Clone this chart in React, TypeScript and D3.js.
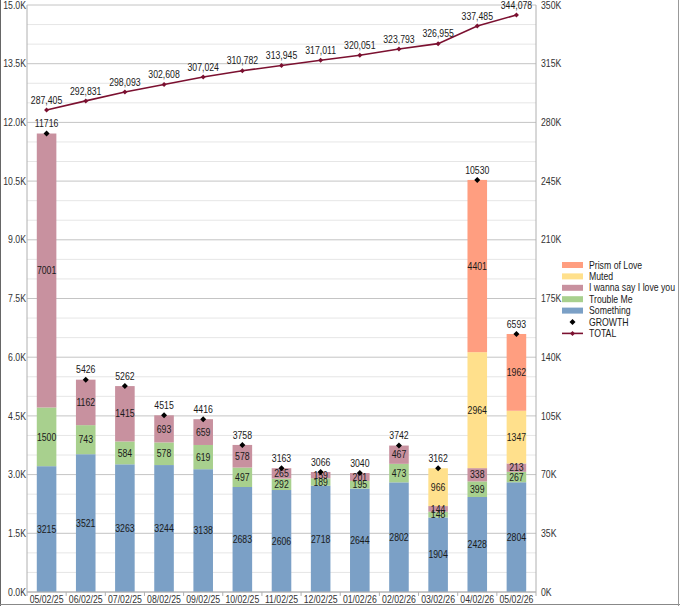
import React from "react";
import * as d3 from "d3";

const categories = ["05/02/25","06/02/25","07/02/25","08/02/25","09/02/25","10/02/25","11/02/25","12/02/25","01/02/26","02/02/26","03/02/26","04/02/26","05/02/26"];
const something = [3215,3521,3263,3244,3138,2683,2606,2718,2644,2802,1904,2428,2804];
const troubleMe = [1500,743,584,578,619,497,292,189,195,473,148,399,267];
const iWannaSay = [7001,1162,1415,693,659,578,265,159,201,467,144,338,213];
const muted = [0,0,0,0,0,0,0,0,0,0,966,2964,1347];
const prismOfLove = [0,0,0,0,0,0,0,0,0,0,0,4401,1962];
const growth = [11716,5426,5262,4515,4416,3758,3163,3066,3040,3742,3162,10530,6593];
const total = [287405,292831,298093,302608,307024,310782,313945,317011,320051,323793,326955,337485,344078];
const leftTicks = [0,1500,3000,4500,6000,7500,9000,10500,12000,13500,15000];
const rightTicks = [0,35000,70000,105000,140000,175000,210000,245000,280000,315000,350000];

const seriesDefs = [
  { name: "Something", values: something, color: "#7ba0c6" },
  { name: "Trouble Me", values: troubleMe, color: "#a8d08e" },
  { name: "I wanna say I love you", values: iWannaSay, color: "#c8919f" },
  { name: "Muted", values: muted, color: "#ffe08c" },
  { name: "Prism of Love", values: prismOfLove, color: "#ff9e80" },
];
const legendOrder = ["Prism of Love", "Muted", "I wanna say I love you", "Trouble Me", "Something"];
const lineColor = "#7b1030";
const FONT = "'Liberation Sans', Arial, sans-serif";
const SX = 0.83;
const FS = 10.5;

const dia = (r: number) => `M0,${-r}L${r},0L0,${r}L${-r},0Z`;

function T({ x, y, anchor = "middle", fill = "#1a1a1a", children }: any) {
  return (
    <text transform={`translate(${x},${y}) scale(${SX},1)`} dy="0.35em" fontSize={FS} textAnchor={anchor} fill={fill}>
      {children}
    </text>
  );
}

export default function App() {
  const W = 680, H = 606;
  const left = 27, right = 536, top = 5, bottom = 592;
  const x = d3.scaleBand<string>().domain(categories).range([left, right]).paddingInner(0.5).paddingOuter(0.25);
  const yL = d3.scaleLinear().domain([0, 15000]).range([bottom, top]);
  const yR = d3.scaleLinear().domain([0, 350000]).range([bottom, top]);
  const minor = d3.range(0, 15001, 500);
  const bw = x.bandwidth();
  const step = x.step();
  const cx = (i: number) => x(categories[i])! + bw / 2;

  const stackData = categories.map((c, i) => {
    const o: any = { cat: c };
    seriesDefs.forEach(s => (o[s.name] = s.values[i]));
    return o;
  });
  const stacked = d3.stack<any>().keys(seriesDefs.map(s => s.name))(stackData);
  const line = d3.line<number>().x((_, i) => cx(i)).y(v => yR(v));
  const fmt = d3.format(",");

  return (
    <svg width={W} height={H} style={{ position: "absolute", left: 0, top: 0, background: "#fff" }} fontFamily={FONT}>
      <rect x={0} y={0} width={W} height={H} fill="#fff" />
      {minor.map(v => (
        <line key={"m" + v} x1={left} x2={right} y1={yL(v)} y2={yL(v)} stroke={v % 1500 === 0 ? "#c4c4c4" : "#e6e6e6"} strokeWidth={1} />
      ))}
      {stacked.map((layer, li) => (
        <g key={layer.key} fill={seriesDefs[li].color}>
          {layer.map((d, i) =>
            d[1] - d[0] > 0 ? (
              <rect key={i} x={x(categories[i])} width={bw} y={yL(d[1])} height={yL(d[0]) - yL(d[1])} />
            ) : null
          )}
        </g>
      ))}
      {stacked.map(layer => (
        <g key={"t" + layer.key}>
          {layer.map((d, i) =>
            d[1] - d[0] > 0 ? (
              <T key={i} x={cx(i)} y={yL((d[0] + d[1]) / 2)}>{d[1] - d[0]}</T>
            ) : null
          )}
        </g>
      ))}
      {growth.map((v, i) => (
        <g key={"g" + i}>
          <path d={dia(3)} transform={`translate(${cx(i)},${yL(v)})`} fill="#000" />
          <T x={cx(i)} y={yL(v) - 10}>{v}</T>
        </g>
      ))}
      <path d={line(total)!} fill="none" stroke={lineColor} strokeWidth={1.6} />
      {total.map((v, i) => (
        <g key={"l" + i}>
          <path d={dia(2.5)} transform={`translate(${cx(i)},${yR(v)})`} fill={lineColor} />
          <T x={cx(i)} y={yR(v) - 10}>{fmt(v)}</T>
        </g>
      ))}
      {/* axes */}
      <line x1={left} x2={left} y1={top} y2={bottom} stroke="#b0b0b0" />
      <line x1={right} x2={right} y1={top} y2={bottom} stroke="#b0b0b0" />
      <line x1={left} x2={right} y1={bottom} y2={bottom} stroke="#b0b0b0" />
      {categories.map((c, i) => (
        <line key={"xt" + i} x1={left + step * i} x2={left + step * i} y1={bottom} y2={bottom + 4} stroke="#b0b0b0" />
      ))}
      <line x1={right} x2={right} y1={bottom} y2={bottom + 4} stroke="#b0b0b0" />
      {categories.map((c, i) => (
        <T key={"xl" + i} x={cx(i)} y={599} fill="#333">{c}</T>
      ))}
      {leftTicks.map(v => (
        <T key={"yl" + v} x={26} y={yL(v)} anchor="end" fill="#333">{(v / 1000).toFixed(1) + "K"}</T>
      ))}
      {rightTicks.map(v => (
        <T key={"yr" + v} x={541} y={yR(v)} anchor="start" fill="#333">{v / 1000 + "K"}</T>
      ))}
      {/* legend */}
      <g>
        {legendOrder.map((name, k) => {
          const s = seriesDefs.find(d => d.name === name)!;
          const cy = 265 + k * 11.4;
          return (
            <g key={name}>
              <rect x={562} y={cy - 3} width={21} height={6} fill={s.color} />
              <T x={589} y={cy} anchor="start">{name}</T>
            </g>
          );
        })}
        <path d={dia(3)} transform={`translate(572.5,${265 + 5 * 11.4})`} fill="#000" />
        <T x={589} y={265 + 5 * 11.4} anchor="start">GROWTH</T>
        <line x1={562} x2={583} y1={265 + 6 * 11.4} y2={265 + 6 * 11.4} stroke={lineColor} strokeWidth={1.6} />
        <path d={dia(2.5)} transform={`translate(572.5,${265 + 6 * 11.4})`} fill={lineColor} />
        <T x={589} y={265 + 6 * 11.4} anchor="start">TOTAL</T>
      </g>
      {/* frame */}
      <line x1={0.5} x2={0.5} y1={0} y2={H} stroke="#666" />
      <line x1={0} x2={W} y1={H - 1.5} y2={H - 1.5} stroke="#888" />
      <line x1={W - 1.5} x2={W - 1.5} y1={0} y2={H} stroke="#999" />
    </svg>
  );
}
